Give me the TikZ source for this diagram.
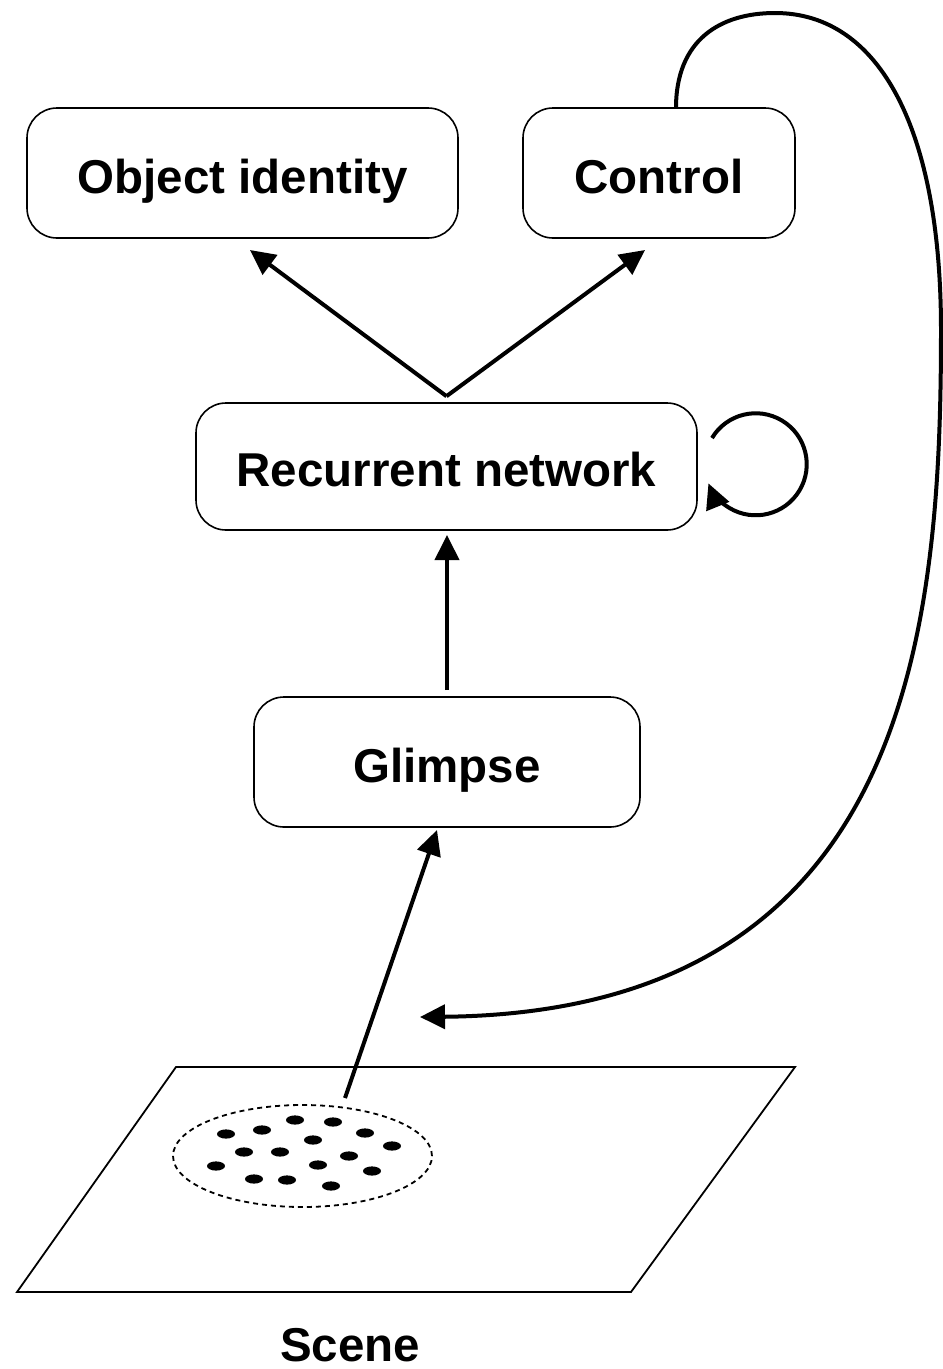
\documentclass[tikz,border=0pt]{standalone}
\usepackage{fontspec}
\setmainfont{Liberation Sans}
\usetikzlibrary{arrows.meta}
\begin{document}
\begin{tikzpicture}[x=1pt,y=1pt,
  box/.style={draw,line width=1.6pt,rounded corners=30pt,inner sep=0pt,
    text height=40pt,text depth=0pt,
    font=\fontsize{47.5}{56}\selectfont\bfseries},
  arr/.style={line width=4pt,-{Triangle[length=25pt,width=24pt]}}]
\useasboundingbox (0,0) rectangle (943,-1369);
\node[box,minimum width=431pt,minimum height=130pt] (obj) at (242.5,-173) {Object identity};
\node[box,minimum width=272pt,minimum height=130pt] (ctrl) at (659,-173) {Control};
\node[box,minimum width=501pt,minimum height=127pt] (rn) at (446.5,-466.5) {Recurrent network};
\node[box,minimum width=386pt,minimum height=130pt] (gl) at (447,-762) {Glimpse};
\node[font=\fontsize{47.5}{56}\selectfont\bfseries,inner sep=0pt,text height=40pt,text depth=0pt] (scl) at (350,-1341) {Scene};
% scene plane
\draw[line width=1.8pt,line join=miter] (176,-1067) -- (795,-1067) -- (631,-1292) -- (17,-1292) -- cycle;
\draw[line width=1.8pt,dash pattern=on 5pt off 4pt] (302.5,-1156) ellipse[x radius=129.5pt,y radius=51pt];
\foreach \x/\y in {295/1120,333/1122,262/1130,226/1134,365/1133,313/1140,392/1146,244/1152,280/1152,349/1156,216/1166,318/1165,372/1171,254/1179,287/1180,331/1186}
  \fill (\x,-\y) ellipse[x radius=9pt,y radius=4.6pt];
% coordinates
\coordinate (sc) at (345,-1098);
\coordinate (rnt) at ([yshift=6pt]rn.north);
\coordinate (objb) at (250,-250);
\coordinate (ctrlb) at (645,-250);
\coordinate (glb) at (437,-830);
\coordinate (rnb) at (447,-535);
\coordinate (glt) at (447,-690);
\coordinate (ls) at (712,-438);
\coordinate (ctop) at (676,-108);
\coordinate (target) at (420,-1017);
% arrows
\draw[arr] (sc) -- (glb);
\draw[arr] (glt) -- (rnb);
\draw[arr] (rnt) -- (objb);
\draw[arr] (rnt) -- (ctrlb);
\draw[arr] (ls) arc[start angle=149,end angle=-158,radius=51pt];
\draw[arr] (ctop) .. controls (676,-40) and (720,-13) .. (775,-13)
  .. controls (880,-13) and (941,-130) .. (941,-330)
  .. controls (941,-630) and (910,-1012) .. (target);
\end{tikzpicture}
\end{document}
